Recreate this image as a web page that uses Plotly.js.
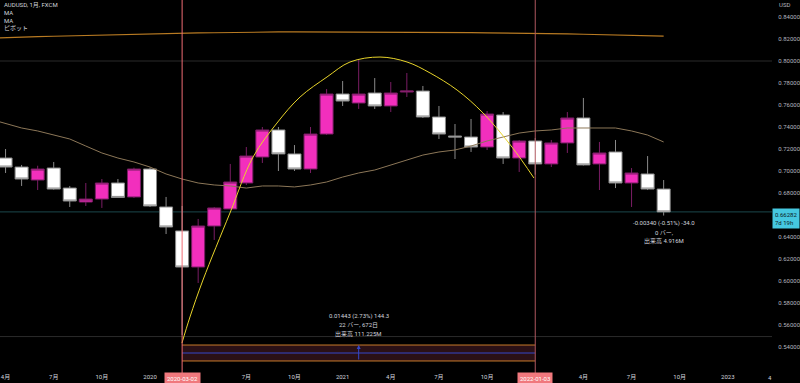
<!DOCTYPE html>
<html><head><meta charset="utf-8">
<script src="https://cdn.plot.ly/plotly-3.0.1.min.js"></script>
<style>html,body{margin:0;padding:0;background:#000;}#chart{width:800px;height:383px;}</style>
</head><body><div id="chart"></div>
<script>
// ---- data (AUDUSD monthly, FXCM) ----
const months = ["2019-04","2019-05","2019-06","2019-07","2019-08","2019-09","2019-10","2019-11","2019-12",
  "2020-01","2020-02","2020-03","2020-04","2020-05","2020-06","2020-07","2020-08","2020-09","2020-10","2020-11","2020-12",
  "2021-01","2021-02","2021-03","2021-04","2021-05","2021-06","2021-07","2021-08","2021-09","2021-10","2021-11","2021-12",
  "2022-01","2022-02","2022-03","2022-04","2022-05","2022-06","2022-07","2022-08","2022-09"];
const openP  = [0.7118,0.7036,0.6918,0.7027,0.6845,0.6718,0.6745,0.6891,0.6764,
  0.7018,0.6673,0.6455,0.6127,0.6500,0.6655,0.6891,0.7127,0.7373,0.7155,0.7018,0.7336,
  0.7700,0.7618,0.7709,0.7591,0.7718,0.7727,0.7491,0.7318,0.7309,0.7218,0.7509,0.7118,
  0.7273,0.7064,0.7255,0.7482,0.7064,0.7173,0.6891,0.6973,0.6836];
const highP  = [0.7200,0.7055,0.7048,0.7082,0.6864,0.6891,0.6927,0.6927,0.7030,
  0.7031,0.6764,0.6682,0.6564,0.6673,0.7064,0.7218,0.7400,0.7400,0.7236,0.7400,0.7745,
  0.7818,0.8009,0.7845,0.7809,0.7891,0.7773,0.7591,0.7427,0.7473,0.7545,0.7536,0.7282,
  0.7300,0.7282,0.7536,0.7664,0.7264,0.7282,0.7027,0.7136,0.6918];
const lowP   = [0.6982,0.6864,0.6827,0.6830,0.6673,0.6682,0.6664,0.6755,0.6755,
  0.6673,0.6427,0.5509,0.5982,0.6373,0.6650,0.6873,0.7073,0.7000,0.7000,0.6982,0.7327,
  0.7591,0.7564,0.7564,0.7536,0.7673,0.7482,0.7291,0.7109,0.7173,0.7191,0.7064,0.6991,
  0.6967,0.7036,0.7164,0.7050,0.6827,0.6845,0.6673,0.6827,0.6595];
const closeP = [0.7036,0.6927,0.7018,0.6836,0.6727,0.6745,0.6891,0.6760,0.7018,
  0.6682,0.6491,0.6127,0.6500,0.6664,0.6900,0.7136,0.7373,0.7155,0.7018,0.7336,0.7700,
  0.7636,0.7700,0.7591,0.7709,0.7727,0.7491,0.7336,0.7309,0.7218,0.7518,0.7118,0.7273,
  0.7064,0.7255,0.7482,0.7055,0.7164,0.6891,0.6982,0.6836,0.66282];

const maMonths = ["2019-03"].concat(months);
const maLong  = [0.8207,0.8214,0.8218,0.8222,0.8225,0.8229,0.8232,0.8235,0.8239,0.8243,0.8245,0.8249,0.8252,
  0.8255,0.8257,0.8260,0.8262,0.8263,0.8264,0.8264,0.8264,0.8264,0.8264,0.8264,0.8264,0.8263,0.8263,0.8262,
  0.8261,0.8260,0.8258,0.8256,0.8255,0.8253,0.8252,0.8249,0.8246,0.8243,0.8241,0.8238,0.8234,0.8231,0.8227];
const maShort = [0.7473,0.7430,0.7391,0.7364,0.7327,0.7291,0.7227,0.7164,0.7118,0.7082,0.7036,0.6973,0.6927,
  0.6891,0.6873,0.6864,0.6845,0.6864,0.6864,0.6855,0.6873,0.6900,0.6945,0.6982,0.7009,0.7055,0.7100,0.7145,
  0.7173,0.7191,0.7227,0.7273,0.7309,0.7345,0.7364,0.7373,0.7391,0.7391,0.7391,0.7391,0.7364,0.7327,0.7264];

// arc drawing (bar index, price)
const arcIdx   = [10.99,11.49,12.30,13.98,15.42,16.91,18.35,20.03,21.46,23.33,25.01,26.45,28.13,29.75,31.55,32.92];
const arcPrice = [0.5436,0.5673,0.6009,0.6618,0.7127,0.7436,0.7673,0.7855,0.7991,0.8036,0.7991,0.7891,0.7736,0.7527,0.7218,0.6936];

const pivotLevels = [0.8000, 0.5495];

const tickMonths = ["2019-04","2019-07","2019-10","2020-01","2020-07","2020-10","2021-01","2021-04","2021-07","2021-10","2022-04","2022-07","2022-10","2023-01"];
const tickText   = ["4月","7月","10月","2020","7月","10月","2021","4月","7月","10月","4月","7月","10月","2023"];
const yTickVals  = [0.54,0.56,0.58,0.60,0.62,0.64,0.68,0.70,0.72,0.74,0.76,0.78,0.80,0.82,0.84];
const markerMonths = ["2020-03","2022-01"];
const markerLabels = ["2020-03-02","2022-01-03"];
const legendLines = ["AUDUSD, 1月, FXCM","MA","MA","ピボット"];
const rangeStats = ["0.01443 (2.73%) 144.3","22 バー, 672日","出来高 111.225M"];
const lastStats  = ["-0.00340 (-0.51%) -34.0","0 バー,","出来高 4.916M"];
const lastTimer = "7d 19h";

// ---- helpers ----
function idx(m){const p=m.split('-').map(Number);return (p[0]-2019)*12+(p[1]-4);}
const PH = 367, PW = 772;
function fy(py){return 1 - py/PH;}
function fx(px){return px/PW;}
const FONT = "Roboto, 'Noto Sans CJK JP', sans-serif";
const TXT = '#d1d4dc';

const xIdx = months.map(idx);
const traces = [
  {type:'scatter',mode:'lines',x:maMonths.map(idx),y:maShort,line:{color:'#8c7758',width:1},hoverinfo:'skip'},
  {type:'scatter',mode:'lines',x:maMonths.map(idx),y:maLong,line:{color:'#b87a22',width:1.2},hoverinfo:'skip'},
  {type:'candlestick',x:xIdx,open:openP,high:highP,low:lowP,close:closeP,
   increasing:{line:{color:'#7a1d64',width:1},fillcolor:'#f22fbd'},
   decreasing:{line:{color:'#8a8a8a',width:1},fillcolor:'#ffffff'},
   whiskerwidth:0,hoverinfo:'skip'},
  {type:'scatter',mode:'lines',x:arcIdx,y:arcPrice,line:{color:'#e8d42a',width:1,shape:'spline'},hoverinfo:'skip'}
];

const lastClose = closeP[closeP.length-1];
const m0 = idx(markerMonths[0]), m1 = idx(markerMonths[1]);
const boxLo = 0.5273, boxHi = 0.5418, boxMid = (boxLo+boxHi)/2;
const shapes = [];
pivotLevels.forEach(v=>shapes.push({type:'line',xref:'paper',x0:0,x1:1,yref:'y',y0:v,y1:v,line:{color:'#2a2a2a',width:1},layer:'below'}));
shapes.push({type:'line',xref:'paper',x0:0,x1:1,yref:'y',y0:lastClose,y1:lastClose,line:{color:'#1b474c',width:1},layer:'below'});
shapes.push({type:'rect',xref:'x',x0:m0,x1:m1,yref:'y',y0:boxLo,y1:boxHi,fillcolor:'#2a1016',line:{width:0},layer:'below'});
shapes.push({type:'line',xref:'x',x0:m0,x1:m1,yref:'y',y0:boxHi,y1:boxHi,line:{color:'#c87a2a',width:1}});
shapes.push({type:'line',xref:'x',x0:m0,x1:m1,yref:'y',y0:boxLo,y1:boxLo,line:{color:'#c87a2a',width:1}});
shapes.push({type:'line',xref:'x',x0:m0,x1:m1,yref:'y',y0:boxMid,y1:boxMid,line:{color:'#3447c9',width:1}});
shapes.push({type:'line',xref:'x',x0:m0,x1:m0,yref:'paper',y0:fy(373),y1:1,line:{color:'#f06c74',width:1}});
shapes.push({type:'line',xref:'x',x0:m1,x1:m1,yref:'paper',y0:fy(373),y1:1,line:{color:'#b0585f',width:1}});

const ann = [];
legendLines.forEach((t,i)=>ann.push({xref:'paper',yref:'paper',x:fx(2),y:fy(5.5+i*7.3),xanchor:'left',yanchor:'middle',text:t,showarrow:false,font:{size:6,color:TXT,family:FONT}}));
rangeStats.forEach((t,i)=>ann.push({xref:'x',yref:'paper',x:(m0+m1)/2,y:fy(316+i*9),xanchor:'center',yanchor:'middle',text:t,showarrow:false,font:{size:6,color:TXT,family:FONT}}));
lastStats.forEach((t,i)=>ann.push({xref:'x',yref:'paper',x:xIdx[xIdx.length-1],y:fy(223+i*9),xanchor:'center',yanchor:'middle',text:t,showarrow:false,font:{size:6,color:TXT,family:FONT}}));
ann.push({xref:'x',yref:'y',x:(m0+m1)/2,y:boxHi,ax:(m0+m1)/2,ay:boxLo,axref:'x',ayref:'y',text:'',showarrow:true,arrowhead:2,arrowsize:0.8,arrowwidth:1,arrowcolor:'#3447c9'});
markerMonths.forEach((m,i)=>ann.push({xref:'x',yref:'paper',x:idx(m),y:fy(378.5),xanchor:'center',yanchor:'middle',text:markerLabels[i],showarrow:false,bgcolor:'#f0787d',borderpad:2,font:{size:6,color:'#ffffff',family:FONT}}));
ann.push({xref:'paper',yref:'paper',x:fx(777),y:fy(5),xanchor:'left',yanchor:'middle',text:'USD',showarrow:false,font:{size:6,color:'#b2b5be',family:FONT}});
ann.push({xref:'paper',yref:'y',x:fx(772),y:lastClose,xanchor:'left',yanchor:'top',yshift:4,
  text:lastClose.toFixed(5)+'<br>'+lastTimer,showarrow:false,align:'left',bgcolor:'#45c8e0',borderpad:2,width:22,
  font:{size:6,color:'#0c1c24',family:FONT}});
ann.push({xref:'paper',yref:'paper',x:fx(774),y:fy(377),xanchor:'right',yanchor:'middle',text:'4',showarrow:false,font:{size:6,color:TXT,family:FONT}});

const layout = {
  width:800,height:383,
  margin:{l:0,r:28,t:0,b:16,pad:0},
  paper_bgcolor:'#000000',plot_bgcolor:'#000000',
  showlegend:false,
  boxgap:0.19,boxgroupgap:0,
  font:{family:FONT,size:6,color:TXT},
  xaxis:{type:'linear',range:[-0.346,47.75],rangeslider:{visible:false},showgrid:false,zeroline:false,showline:false,
    tickvals:tickMonths.map(idx),ticktext:tickText,ticks:'outside',ticklen:4,tickcolor:'rgba(0,0,0,0)',
    tickfont:{size:6,color:TXT,family:FONT},fixedrange:true},
  yaxis:{range:[0.52182,0.85545],side:'right',showgrid:false,zeroline:false,showline:false,
    tickvals:yTickVals,tickformat:'.5f',ticks:'outside',ticklen:4,tickcolor:'rgba(0,0,0,0)',
    tickfont:{size:6,color:'#b2b5be',family:FONT},fixedrange:true},
  shapes:shapes,annotations:ann
};
Plotly.newPlot('chart',traces,layout,{staticPlot:true,displayModeBar:false});
</script>
</body></html>
